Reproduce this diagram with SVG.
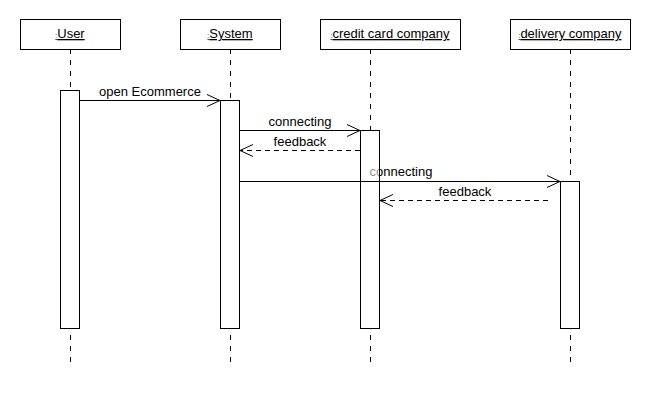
<svg xmlns="http://www.w3.org/2000/svg" width="650" height="400" viewBox="0 0 650 400">
<style>
.box{fill:#fff;stroke:#000;stroke-width:1}
.life{stroke:#000;stroke-width:1;stroke-dasharray:5,6;fill:none}
.act{fill:#fff;stroke:#000;stroke-width:1}
.msg{stroke:#000;stroke-width:1;fill:none}
.dash{stroke-dasharray:5,4}
.hd{stroke:#000;stroke-width:1;fill:none}
text{font-family:"Liberation Sans",Arial,sans-serif;font-size:13px;fill:#000}
.t{text-decoration:underline}
.c{font-size:7px}
.veil{fill:#fff;fill-opacity:0.55;stroke:none}
</style>
<g id="lifelines">
<line class="life" x1="70.5" y1="49" x2="70.5" y2="362"/>
<line class="life" x1="230.5" y1="49" x2="230.5" y2="362"/>
<line class="life" x1="370.5" y1="49" x2="370.5" y2="362"/>
<line class="life" x1="570.5" y1="49" x2="570.5" y2="362"/>
</g>
<g id="user"><rect class="box" x="20.5" y="19.5" width="100" height="30"/><text x="70" y="38" text-anchor="middle" class="t"><tspan class="c">:</tspan>User</text><rect class="act" x="60.5" y="90.5" width="19" height="238"/></g>
<g id="system"><rect class="box" x="180.5" y="19.5" width="100" height="30"/><text x="230" y="38" text-anchor="middle" class="t"><tspan class="c">:</tspan>System</text><rect class="act" x="220.5" y="100.5" width="19" height="228"/></g>
<g id="credit"><rect class="box" x="320.5" y="19.5" width="140" height="30"/><text x="390" y="38" text-anchor="middle" class="t"><tspan class="c">:</tspan>credit card company</text><rect class="act" x="360.5" y="130.5" width="19" height="198"/></g>
<g id="delivery"><rect class="box" x="510.5" y="19.5" width="120" height="30"/><text x="570" y="38" text-anchor="middle" class="t"><tspan class="c">:</tspan>delivery company</text><rect class="act" x="560.5" y="181.5" width="19" height="147"/></g>
<g id="connectors">
<line class="msg" x1="80" y1="100.5" x2="220" y2="100.5"/><polyline class="hd" points="207,94.5 220,100.5 207,106.5"/>
<text x="150" y="96" text-anchor="middle">open Ecommerce</text>
<line class="msg" x1="240" y1="130.5" x2="360" y2="130.5"/><polyline class="hd" points="347,124.5 360,130.5 347,136.5"/>
<text x="300" y="126" text-anchor="middle">connecting</text>
<line class="msg dash" x1="360" y1="150.5" x2="240" y2="150.5"/><polyline class="hd" points="253,144.5 240,150.5 253,156.5"/>
<text x="300" y="146" text-anchor="middle">feedback</text>
<text x="401" y="176" text-anchor="middle">connecting</text>
<rect class="veil" x="361" y="160" width="18" height="20"/>
<line class="msg" x1="240" y1="181.5" x2="560" y2="181.5"/><polyline class="hd" points="547,175.5 560,181.5 547,187.5"/>
<line class="msg dash" x1="548" y1="200.5" x2="380" y2="200.5"/><polyline class="hd" points="393,194.5 380,200.5 393,206.5"/>
<text x="465" y="196" text-anchor="middle">feedback</text>
</g>
</svg>
